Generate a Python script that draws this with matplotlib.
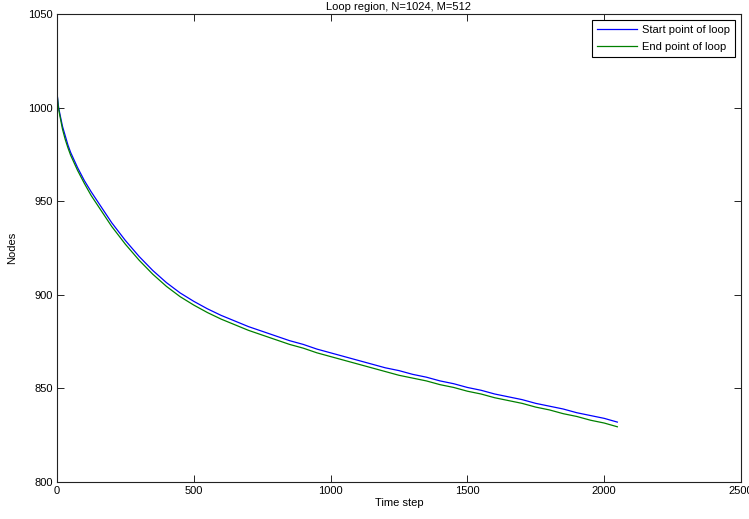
import numpy as np
import matplotlib
matplotlib.use('Agg')
import matplotlib.pyplot as plt

# values (time step, nodes)
steps = [0, 5, 10, 20, 30, 40, 50, 75, 100, 125, 150, 200, 250, 300, 350, 400,
         450, 500, 550, 600, 650, 700, 750, 800, 850, 900, 950, 1000, 1050, 1100,
         1150, 1200, 1250, 1300, 1350, 1400, 1450, 1500, 1550, 1600, 1650, 1700,
         1750, 1800, 1850, 1900, 1950, 2000, 2048]
start_nodes = [1008, 1001, 997, 990, 985, 980, 976, 968, 961, 955, 949.5, 938.5,
               929, 920.5, 913, 906.5, 901, 896.5, 892.5, 889, 886, 883, 880.5,
               878, 875.5, 873.5, 871, 869, 867, 865, 863, 861, 859.5, 857.5,
               856, 854, 852.5, 850.5, 849, 847, 845.5, 844, 842, 840.5, 839,
               837, 835.5, 834, 832]
end_nodes = [1008, 1000, 996, 988.5, 983, 978.5, 974.5, 966.5, 959.5, 953, 947.5,
             936.5, 927, 918.5, 911, 904.5, 899, 894.5, 890.5, 887, 884, 881,
             878.5, 876, 873.5, 871.5, 869, 867, 865, 863, 861, 859, 857, 855.5,
             854, 852, 850.5, 848.5, 847, 845, 843.5, 842, 840, 838.5, 836.5,
             835, 833, 831.5, 829.5]

plt.rcParams['font.family'] = ['Liberation Sans', 'DejaVu Sans']
plt.rcParams['font.size'] = 8

fig = plt.figure(figsize=(7.49, 5.19), dpi=100)
ax = fig.add_axes([57/749, 1 - 482/519, (741 - 57)/749, (482 - 14)/519])

ax.plot(steps, start_nodes, color=(0, 0, 1), lw=0.9, label='Start point of loop')
ax.plot(steps, end_nodes, color=(0, 0.5, 0), lw=0.9, label='End point of loop')

ax.set_xlim(0, 2500)
ax.set_ylim(800, 1050)
ax.set_xticks([0, 500, 1000, 1500, 2000, 2500])
ax.set_yticks([800, 850, 900, 950, 1000, 1050])
ax.tick_params(direction='in', length=5, width=0.6, top=True, right=True,
               labelsize=8, pad=3)
for s in ax.spines.values():
    s.set_linewidth(0.8)
    s.set_color('#222222')

ax.set_title('Loop region, N=1024, M=512', fontsize=8, pad=3)
ax.set_xlabel('Time step', fontsize=8, labelpad=1)
ax.set_ylabel('Nodes', fontsize=8, labelpad=8)

leg = ax.legend(loc='upper right', fontsize=8, frameon=True, fancybox=False,
                edgecolor='black', framealpha=1, handlelength=3.6,
                borderaxespad=0.5, borderpad=0.5, labelspacing=0.6,
                handletextpad=0.4)
leg.get_frame().set_linewidth(0.8)

fig.savefig('out.png', dpi=100)
